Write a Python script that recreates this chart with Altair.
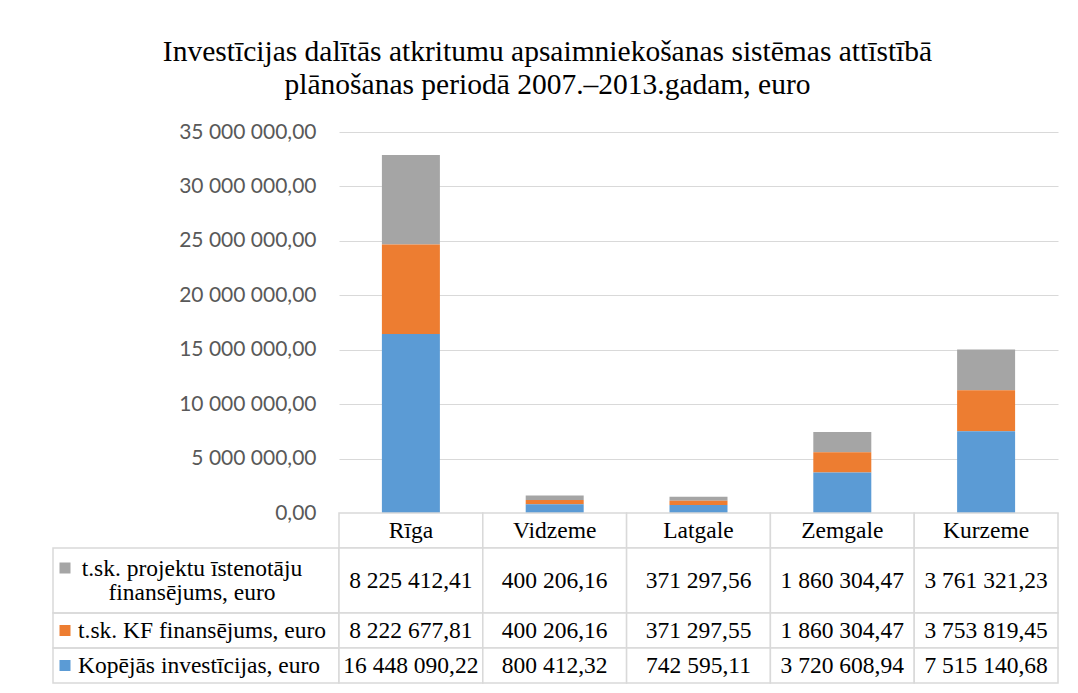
import altair as alt
import pandas as pd

regions = ["Rīga", "Vidzeme", "Latgale", "Zemgale", "Kurzeme"]
projektu = [8225412.41, 400206.16, 371297.56, 1860304.47, 3761321.23]
kf = [8222677.81, 400206.16, 371297.55, 1860304.47, 3753819.45]
kopejas = [16448090.22, 800412.32, 742595.11, 3720608.94, 7515140.68]

series_names = ["t.sk. projektu īstenotāju finansējums, euro",
                "t.sk. KF finansējums, euro",
                "Kopējās investīcijas, euro"]
row_labels = ["t.sk. projektu īstenotāju\nfinansējums, euro",
              "t.sk. KF finansējums, euro",
              "Kopējās investīcijas, euro"]
series_values = [projektu, kf, kopejas]
colors = ["#A5A5A5", "#ED7D31", "#5B9BD5"]
y_ticks = [0, 5000000, 10000000, 15000000, 20000000, 25000000, 30000000, 35000000]

title_lines = ["Investīcijas dalītās atkritumu apsaimniekošanas sistēmas attīstībā",
               "plānošanas periodā 2007.–2013.gadam, euro"]

rows = []
for si, (name, vals) in enumerate(zip(series_names, series_values)):
    for r, v in zip(regions, vals):
        rows.append({"region": r, "series": name, "value": v,
                     "stack_idx": 2 - si, "label": row_labels[si]})
df = pd.DataFrame(rows)

FMT = "replace(replace(format({v}, ',.2f'), regexp(',', 'g'), ' '), '.', ',')"
SERIF = "Liberation Serif"
GRID = "#d9d9d9"
LABEL_W = 286
PLOT_W = 719
PLOT_H = 381
ROW_H = [65, 35, 35]
HEAD_H = 35
FS = 23.5

color_scale = alt.Scale(domain=series_names, range=colors)

bars = alt.Chart(df).mark_bar().encode(
    x=alt.X("region:N", sort=regions,
            scale=alt.Scale(paddingInner=0.5967, paddingOuter=0.2983), axis=None),
    y=alt.Y("value:Q", stack="zero",
            scale=alt.Scale(domain=[0, 35000000], nice=False),
            axis=alt.Axis(values=y_ticks, labelExpr=FMT.format(v="datum.value"),
                          domain=False, ticks=False, grid=True, gridColor=GRID,
                          gridWidth=1, labelFont="Lato", labelFontSize=21,
                          labelColor="#595959", labelPadding=23, title=None)),
    color=alt.Color("series:N", scale=color_scale, legend=None),
    order=alt.Order("stack_idx:Q", sort="ascending"),
).properties(width=PLOT_W, height=PLOT_H)

spacer = alt.Chart(pd.DataFrame({"a": [0]})).mark_text(text=" ").properties(
    width=LABEL_W, height=PLOT_H)
spacer_head = alt.Chart(pd.DataFrame({"a": [0]})).mark_text(text=" ").properties(
    width=LABEL_W, height=HEAD_H)

head_df = pd.DataFrame({"region": regions})
xcell = alt.X("region:N", sort=regions, scale=alt.Scale(padding=0), axis=None)
header = alt.layer(
    alt.Chart(head_df).mark_rect(fill="white", stroke=GRID, strokeWidth=1.5).encode(x=xcell),
    alt.Chart(head_df).mark_text(font=SERIF, fontSize=FS, color="black",
                                 baseline="middle").encode(x=xcell, text="region:N"),
).properties(width=PLOT_W, height=HEAD_H)

charts = [spacer, bars, spacer_head, header]
for si, name in enumerate(series_names):
    h = ROW_H[si]
    sdf = df[df["series"] == name]
    ldf = sdf.iloc[:1]
    if si == 0:
        txt = alt.Chart(ldf).mark_text(font=SERIF, fontSize=FS, color="black",
                                       align="center", baseline="middle",
                                       lineBreak="\n", lineHeight=24).encode(
            x=alt.value(139), y=alt.value(h / 2 - 12), text="label:N")
        sq_y = 20
    else:
        txt = alt.Chart(ldf).mark_text(font=SERIF, fontSize=FS, color="black",
                                       align="left", baseline="middle").encode(
            x=alt.value(25), y=alt.value(h / 2), text="label:N")
        sq_y = h / 2
    sq = alt.Chart(ldf).mark_square(size=121, opacity=1, filled=True).encode(
        x=alt.value(12), y=alt.value(sq_y),
        color=alt.Color("series:N", scale=color_scale, legend=None))
    label_cell = alt.layer(sq, txt).properties(
        width=LABEL_W, height=h,
        view=alt.ViewBackground(stroke=GRID, strokeWidth=1.5))
    vals = alt.layer(
        alt.Chart(sdf).mark_rect(fill="white", stroke=GRID, strokeWidth=1.5).encode(x=xcell),
        alt.Chart(sdf).transform_calculate(txt=FMT.format(v="datum.value")).mark_text(
            font=SERIF, fontSize=FS, color="black", baseline="middle").encode(
            x=xcell, text="txt:N"),
    ).properties(width=PLOT_W, height=h)
    charts += [label_cell, vals]

chart = alt.concat(
    *charts, columns=2, spacing=0, bounds="flush",
    title=alt.Title(text=title_lines, font=SERIF, fontSize=29.5, fontWeight="normal",
                    color="black", lineHeight=33, anchor="middle", offset=21, dx=-8),
).configure_view(strokeWidth=0).properties(
    padding={"left": 44, "top": 28, "right": 5, "bottom": 5})

chart.save("out.html", embed_options={"renderer": "svg", "actions": False})
